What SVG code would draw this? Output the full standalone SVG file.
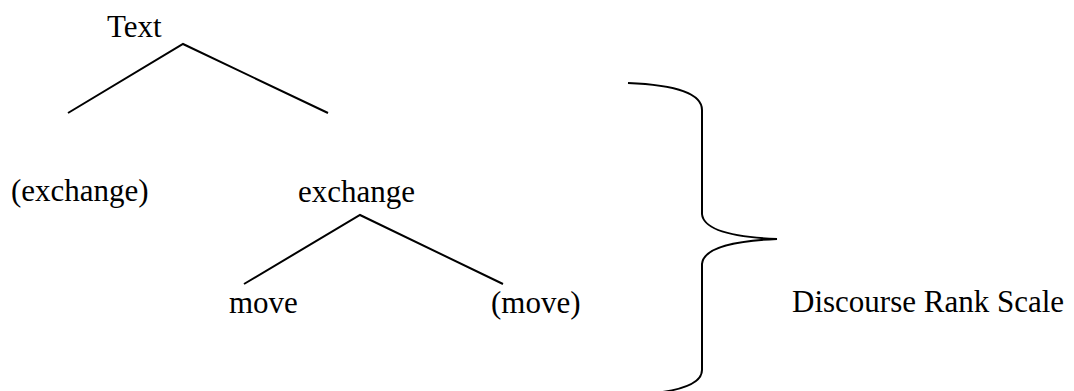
<svg xmlns="http://www.w3.org/2000/svg" width="1074" height="391" viewBox="0 0 1074 391">
<style>
text{font-family:"Liberation Serif","Times New Roman",serif;font-size:31px;fill:#000}
.ln{stroke:#000;stroke-width:2;fill:none}
</style>
<rect width="1074" height="391" fill="#fff"/>
<g id="node-text"><text x="107" y="37">Text</text></g>
<g id="node-exchange-opt"><text x="11" y="201">(exchange)</text></g>
<g id="node-exchange"><text x="298" y="202">exchange</text></g>
<g id="node-move"><text x="229" y="313">move</text></g>
<g id="node-move-opt"><text x="491" y="313">(move)</text></g>
<g id="node-scale"><text x="792" y="312">Discourse Rank Scale</text></g>
<g id="connectors">
<polyline class="ln" points="68,113 183,44 328,113"/>
<polyline class="ln" points="244,284 360,215 503,284"/>
<path class="ln" d="M628,83 Q702,86 702,110 L702,214 Q704,236 777,239 Q704,242 702,264 L702,370 Q702,392 628,395"/>
</g>
</svg>
